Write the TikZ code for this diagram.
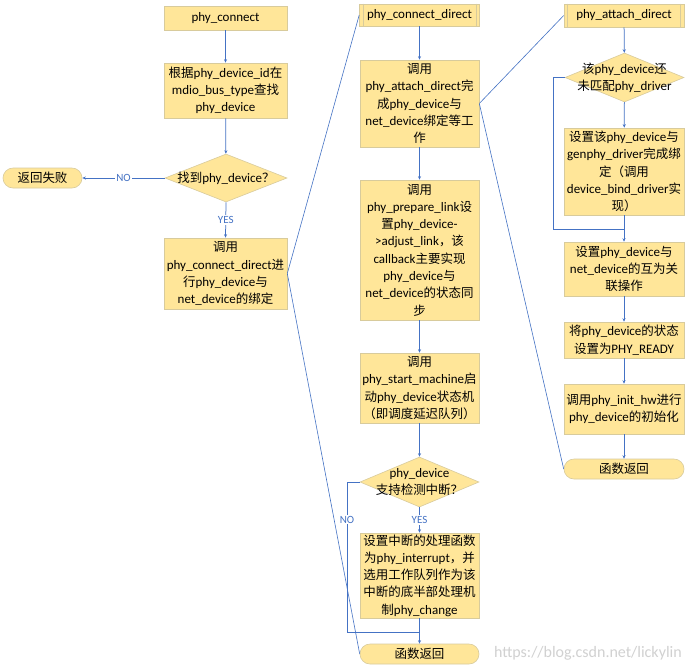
\documentclass[tikz,border=0pt]{standalone}
\usepackage{fontspec}
\setmainfont{Carlito}
\newfontfamily\cjk[Scale=0.96]{Noto Sans CJK SC}
\newcommand\z[1]{{\cjk #1}}
\usetikzlibrary{shapes.geometric,arrows.meta}
\definecolor{boxfill}{HTML}{FFE699}
\definecolor{boxline}{HTML}{D8CB9C}
\definecolor{flow}{HTML}{4472C4}
\tikzset{
  txt/.style={align=center, font=\fontsize{13}{17.3}\selectfont, inner sep=0pt},
  box/.style={txt, draw=boxline, fill=boxfill, line width=0.6pt},
  term/.style={box, rounded corners=10pt},
  dia/.style={diamond, draw=boxline, fill=boxfill, line width=0.6pt, inner sep=0pt},
  subl/.style={draw=boxline, line width=0.6pt},
  arr/.style={draw=flow, line width=0.75pt, -{Stealth[length=3.5pt,width=3pt]}},
  conn/.style={draw=flow, line width=0.6pt},
  lab/.style={fill=white, text=flow, font=\fontsize{11}{12}\selectfont, inner sep=1pt}
}
\begin{document}
\begin{tikzpicture}[x=1pt,y=-1pt]
\useasboundingbox (0,0) rectangle (692,670);
\fill[white] (0,0) rectangle (692,670);

% ---------- left column ----------
\node[box, minimum width=123pt, minimum height=24pt] (c1) at (225.5,18) {phy\_connect};
\node[box, minimum width=123pt, minimum height=55pt] (c2) at (225.5,90.5)
  {\z{根据}phy\_device\_id\z{在}\\mdio\_bus\_type\z{查找}\\phy\_device};
\node[dia, minimum width=122pt, minimum height=48pt] (d1) at (226,178) {};
\node[txt] (d1t) at (d1) {\z{找到}phy\_device\z{？}};
\node[term, minimum width=79pt, minimum height=20pt] (fail) at (42.5,178) {\z{返回失败}};
\node[box, minimum width=123pt, minimum height=71pt] (c4) at (225.5,273.5)
  {\z{调用}\\phy\_connect\_direct\z{进}\\\z{行}phy\_device\z{与}\\net\_device\z{的绑定}};

\draw[arr] (c1) -- (c2);
\draw[arr] (c2) -- (d1);
\draw[arr] (d1.west) -- node[lab]{NO} (fail.east);
\draw[arr] (d1.south) -- node[lab]{YES} (c4.north);

% ---------- middle column ----------
\node[box, minimum width=120pt, minimum height=22pt] (m1) at (419.5,15) {phy\_connect\_direct};
\draw[subl] ([xshift=4pt]m1.north west) -- ([xshift=4pt]m1.south west);
\draw[subl] ([xshift=-4pt]m1.north east) -- ([xshift=-4pt]m1.south east);
\node[box, minimum width=119pt, minimum height=87pt] (m2) at (419.5,103.5)
  {\z{调用}\\phy\_attach\_direct\z{完}\\\z{成}phy\_device\z{与}\\net\_device\z{绑定等工}\\\z{作}};
\node[box, minimum width=119pt, minimum height=140pt] (m3) at (419.5,250)
  {\z{调用}\\phy\_prepare\_link\z{设}\\\z{置}phy\_device-\\>adjust\_link\z{，该}\\callback\z{主要实现}\\phy\_device\z{与}\\net\_device\z{的状态同}\\\z{步}};
\node[box, minimum width=119pt, minimum height=70pt] (m4) at (419.5,388)
  {\z{调用}\\phy\_start\_machine\z{启}\\\z{动}phy\_device\z{状态机}\\\z{（即调度延迟队列）}};
\node[dia, minimum width=119pt, minimum height=50pt] (m5) at (419.5,482) {};
\node[txt] (m5t) at (m5) {phy\_device\\\z{支持检测中断？}};
\node[box, minimum width=119pt, minimum height=85pt] (m6) at (419.5,575.5)
  {\z{设置中断的处理函数}\\\z{为}phy\_interrupt\z{，并}\\\z{选用工作队列作为该}\\\z{中断的底半部处理机}\\\z{制}phy\_change};
\node[term, minimum width=119pt, minimum height=20pt] (m7) at (419.5,654) {\z{函数返回}};

\draw[arr] (m1) -- (m2);
\draw[arr] (m2) -- (m3);
\draw[arr] (m3) -- (m4);
\draw[arr] (m4) -- (m5);
\draw[arr] (m5.south) -- node[lab]{YES} (m6.north);
\draw[arr] (m6) -- (m7);
\coordinate (mb1) at (347,482);
\coordinate (mb2) at (347,632);
\coordinate (mj) at (419.5,632);
\draw[conn] (m5.west) -- (mb1) -- node[lab,pos=0.25]{NO} (mb2) -- (mj);

% ---------- right column ----------
\node[box, minimum width=120pt, minimum height=23pt] (r1) at (624,15.5) {phy\_attach\_direct};
\draw[subl] ([xshift=4pt]r1.north west) -- ([xshift=4pt]r1.south west);
\draw[subl] ([xshift=-4pt]r1.north east) -- ([xshift=-4pt]r1.south east);
\node[dia, minimum width=119pt, minimum height=49pt] (r2) at (624.5,77.5) {};
\node[txt] (r2t) at (r2) {\z{该}phy\_device\z{还}\\\z{未匹配}phy\_driver};
\node[box, minimum width=120pt, minimum height=87pt] (r3) at (624,171.5)
  {\z{设置该}phy\_device\z{与}\\genphy\_driver\z{完成绑}\\\z{定（调用}\\device\_bind\_driver\z{实}\\\z{现）}};
\node[box, minimum width=120pt, minimum height=54pt] (r4) at (624,269)
  {\z{设置}phy\_device\z{与}\\net\_device\z{的互为关}\\\z{联操作}};
\node[box, minimum width=120pt, minimum height=36pt] (r5) at (624,340)
  {\z{将}phy\_device\z{的状态}\\\z{设置为}PHY\_READY};
\node[box, minimum width=120pt, minimum height=50pt] (r6) at (624,409)
  {\z{调用}phy\_init\_hw\z{进行}\\phy\_device\z{的初始化}};
\node[term, minimum width=120pt, minimum height=20pt] (r7) at (624,469) {\z{函数返回}};

\draw[arr] (r1) -- (r2);
\draw[arr] (r2) -- (r3);
\draw[arr] (r3) -- (r4);
\draw[arr] (r4) -- (r5);
\draw[arr] (r5) -- (r6);
\draw[arr] (r6) -- (r7);
\coordinate (rb1) at (553,77.5);
\coordinate (rj) at (624,229);
\draw[conn] (r2.west) -- (rb1) |- (rj);

% ---------- call links ----------
\draw[conn] (c4.east) -- (m1.west);
\draw[conn] (c4.east) -- (m7.west);
\draw[conn] (m2.east) -- (r1.west);
\draw[conn] (m2.east) -- (r7.west);

% watermark
\node[text=black!18, anchor=east, font=\fontsize{16}{18}\selectfont, inner sep=0pt] (wm) at (682,653) {https://blog.csdn.net/lickylin};
\end{tikzpicture}
\end{document}
